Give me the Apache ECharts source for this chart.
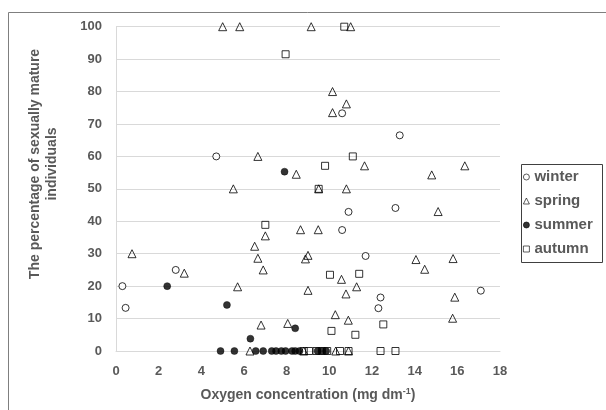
<!DOCTYPE html>
<html>
<head>
<meta charset="utf-8">
<script src="https://cdn.jsdelivr.net/npm/echarts@6/dist/echarts.min.js"></script>
<style>
  html, body { margin: 0; padding: 0; background: #ffffff; }
  #chart { width: 606px; height: 410px; }
</style>
</head>
<body>
<div id="chart"></div>
<script>
var seriesNames = ['winter', 'spring', 'summer', 'autumn'];
var xTicks = [0, 2, 4, 6, 8, 10, 12, 14, 16, 18];
var yTicks = [0, 10, 20, 30, 40, 50, 60, 70, 80, 90, 100];

var winter = [[0.3,20],[0.45,13.3],[2.8,25],[4.7,60],[10.6,73.3],[13.3,66.5],[10.9,42.9],[13.1,44.1],[10.6,37.3],[11.7,29.3],[17.1,18.6],[12.4,16.5],[12.3,13.2]];

var spring = [[5.0,100],[5.8,100],[9.15,100],[11.0,100],[10.15,80],[10.8,76.2],[10.15,73.5],[6.65,60],[8.45,54.5],[5.5,50],[11.65,57.1],[14.8,54.3],[16.35,57.1],[10.8,50],[9.5,50],[15.1,43],[0.75,30],[3.2,24],[5.7,19.8],[7.0,35.5],[6.5,32.3],[6.65,28.6],[6.9,25],[6.8,8],[8.05,8.5],[6.28,0],[8.65,37.4],[9.48,37.4],[9.0,29.5],[8.88,28.4],[14.06,28.2],[15.8,28.5],[14.47,25.2],[10.57,22.1],[11.28,19.8],[9.0,18.7],[10.78,17.6],[15.88,16.6],[10.28,11.2],[10.89,9.5],[15.78,10.1],[10.3,0],[10.9,0],[8.8,0]];

var summer = [[7.9,55.3],[2.4,20],[5.2,14.2],[6.3,3.8],[8.4,7],[4.9,0],[5.55,0],[6.55,0],[6.9,0],[7.3,0],[7.5,0],[7.75,0],[7.95,0],[8.25,0],[8.4,0],[8.6,0],[9.45,0],[9.65,0],[9.85,0]];

var autumn = [[7.95,91.5],[10.7,100],[9.8,57.1],[11.1,60],[9.5,50],[7.0,38.9],[10.03,23.5],[11.4,23.8],[12.53,8.2],[10.1,6.2],[11.22,5],[8.8,0],[9.05,0],[9.4,0],[9.65,0],[9.9,0],[10.5,0],[10.9,0],[12.4,0],[13.1,0]];

var textColor = '#595959';
var fontFam = 'Liberation Sans, Arial, sans-serif';

var chart = echarts.init(document.getElementById('chart'), null, { renderer: 'canvas' });

var option = {
  animation: false,
  backgroundColor: '#ffffff',
  grid: { left: 116, right: 106, top: 26.7, bottom: 59, containLabel: false },
  graphic: [
    {
      type: 'rect',
      shape: { x: 8.5, y: 12.5, width: 640, height: 440 },
      style: { fill: 'none', stroke: '#7f7f7f', lineWidth: 1 },
      silent: true, z: -1
    },
    {
      type: 'rect',
      shape: { x: 521.5, y: 164.5, width: 81, height: 98 },
      style: { fill: 'none', stroke: '#404040', lineWidth: 1 },
      silent: true
    },
    {
      type: 'text',
      x: 44, y: 164,
      rotation: Math.PI / 2,
      style: {
        text: 'The percentage of sexually mature\nindividuals',
        fill: textColor,
        font: 'bold 14px ' + fontFam,
        align: 'center',
        verticalAlign: 'middle',
        lineHeight: 17
      }
    }
  ],
  legend: {
    orient: 'vertical',
    left: 521,
    top: 165,
    data: seriesNames,
    padding: [4, 2, 4, 2],
    itemGap: 8,
    itemWidth: 6,
    itemHeight: 6,
    itemStyle: { borderWidth: 0.8 },
    textStyle: { color: textColor, fontSize: 15, fontWeight: 'bold', fontFamily: fontFam, lineHeight: 16 }
  },
  xAxis: {
    type: 'value',
    min: 0, max: 18, interval: 2,
    name: 'Oxygen concentration (mg dm{sup|-1})',
    nameLocation: 'middle',
    nameGap: 36,
    nameTextStyle: {
      color: textColor, fontSize: 14, fontWeight: 'bold', fontFamily: fontFam,
      rich: { sup: { fontSize: 9, fontWeight: 'bold', color: textColor, fontFamily: fontFam, verticalAlign: 'top', padding: [0, 0, 7, 0] } }
    },
    axisLine: { show: true, lineStyle: { color: '#d9d9d9' } },
    axisTick: { show: false },
    splitLine: { show: false },
    axisLabel: {
      color: textColor, fontSize: 13, fontWeight: 'bold', fontFamily: fontFam, margin: 14,
      formatter: function (v) { return xTicks.indexOf(v) >= 0 ? String(v) : ''; }
    }
  },
  yAxis: {
    type: 'value',
    min: 0, max: 100, interval: 10,
    axisLine: { show: true, lineStyle: { color: '#d9d9d9' } },
    axisTick: { show: false },
    splitLine: { show: true, lineStyle: { color: '#d9d9d9', width: 1 } },
    axisLabel: {
      color: textColor, fontSize: 13, fontWeight: 'bold', fontFamily: fontFam, margin: 14,
      formatter: function (v) { return yTicks.indexOf(v) >= 0 ? String(v) : ''; }
    }
  },
  series: [
    {
      name: 'winter', type: 'scatter', data: winter,
      symbol: 'circle', symbolSize: 7,
      itemStyle: { color: '#ffffff', borderColor: '#000000', borderWidth: 1 }
    },
    {
      name: 'spring', type: 'scatter', data: spring,
      symbol: 'triangle', symbolSize: 8,
      itemStyle: { color: 'rgba(255,255,255,0)', borderColor: '#000000', borderWidth: 1 }
    },
    {
      name: 'summer', type: 'scatter', data: summer,
      symbol: 'circle', symbolSize: 7,
      itemStyle: { color: '#000000', borderColor: '#000000', borderWidth: 0.5 }
    },
    {
      name: 'autumn', type: 'scatter', data: autumn,
      symbol: 'rect', symbolSize: 7,
      itemStyle: { color: 'rgba(255,255,255,0)', borderColor: '#000000', borderWidth: 1 }
    }
  ]
};

chart.setOption(option);
</script>
</body>
</html>
